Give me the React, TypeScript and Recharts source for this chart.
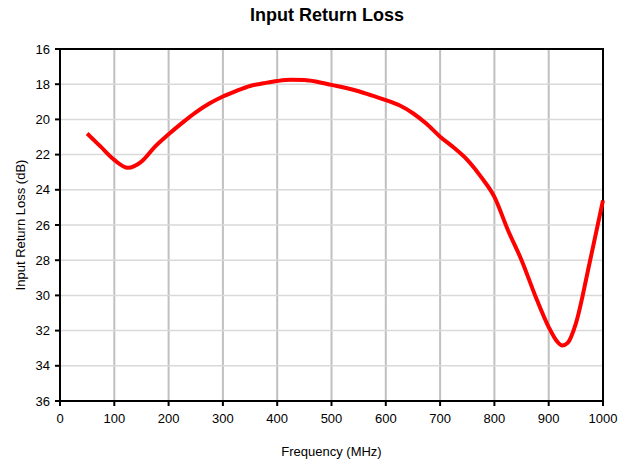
import {
  LineChart,
  Line,
  XAxis,
  YAxis,
  CartesianGrid,
  ReferenceArea,
} from "recharts";

const frequency = [
  50, 75, 100, 125, 150, 175, 200, 225, 250, 275, 300, 325, 350, 375, 400, 425,
  450, 475, 500, 525, 550, 575, 600, 625, 650, 675, 700, 725, 750, 775, 800,
  825, 850, 875, 900, 915, 925, 935, 950, 975, 1000,
];
const returnLoss = [
  20.8, 21.55, 22.3, 22.75, 22.4, 21.55, 20.85, 20.2, 19.6, 19.1, 18.7, 18.38,
  18.1, 17.95, 17.82, 17.75, 17.76, 17.87, 18.04, 18.2, 18.4, 18.65, 18.9, 19.2,
  19.65, 20.25, 20.98, 21.6, 22.3, 23.25, 24.4, 26.3, 28.0, 30.0, 31.8, 32.6,
  32.85, 32.7, 31.6, 28.2, 24.6,
];
const xTicks = [0, 100, 200, 300, 400, 500, 600, 700, 800, 900, 1000];
const yTicks = [16, 18, 20, 22, 24, 26, 28, 30, 32, 34, 36];

const data = frequency.map((f, i) => ({ f, rl: returnLoss[i] }));

const font = "'Liberation Sans', Arial, sans-serif";

export default function App() {
  return (
    <div style={{ position: "relative", width: 628, height: 463, fontFamily: font }}>
      <style>{"body{margin:0}"}</style>
      <div
        style={{
          position: "absolute",
          top: 5,
          left: 0,
          width: 654,
          textAlign: "center",
          fontSize: 18,
          fontWeight: "bold",
          color: "#000",
        }}
      >
        Input Return Loss
      </div>
      <LineChart
        width={628}
        height={463}
        data={data}
        margin={{ top: 49, right: 25, bottom: 0, left: 0 }}
      >
        <CartesianGrid
          horizontal={false}
          stroke="#c0c0c0"
          strokeWidth={2}
        />
        <CartesianGrid vertical={false} stroke="#d9d9d9" strokeWidth={1.5} />
        <ReferenceArea
          x1={0}
          x2={1000}
          y1={16}
          y2={36}
          fill="none"
          stroke="#000"
          strokeWidth={2}
          ifOverflow="visible"
        />
        <XAxis
          dataKey="f"
          type="number"
          domain={[0, 1000]}
          ticks={xTicks}
          height={62}
          stroke="#000"
          strokeWidth={2}
          tickSize={5}
          tickMargin={8}
          tick={{ fontSize: 13, fill: "#000", fontFamily: font }}
          label={{
            value: "Frequency (MHz)",
            position: "insideBottom",
            offset: 7,
            style: { fontSize: 13, fill: "#000", fontFamily: font },
          }}
        />
        <YAxis
          type="number"
          domain={[16, 36]}
          reversed
          ticks={yTicks}
          width={60}
          stroke="#000"
          strokeWidth={2}
          tickSize={5}
          tickMargin={5}
          tick={{ fontSize: 13, fill: "#000", fontFamily: font }}
          label={{
            value: "Input Return Loss (dB)",
            angle: -90,
            position: "insideLeft",
            offset: 20,
            style: { fontSize: 13, fill: "#000", fontFamily: font, textAnchor: "middle" },
          }}
        />
        <Line
          dataKey="rl"
          type="monotone"
          stroke="#ff0000"
          strokeWidth={4}
          dot={false}
          isAnimationActive={false}
        />
      </LineChart>
    </div>
  );
}
